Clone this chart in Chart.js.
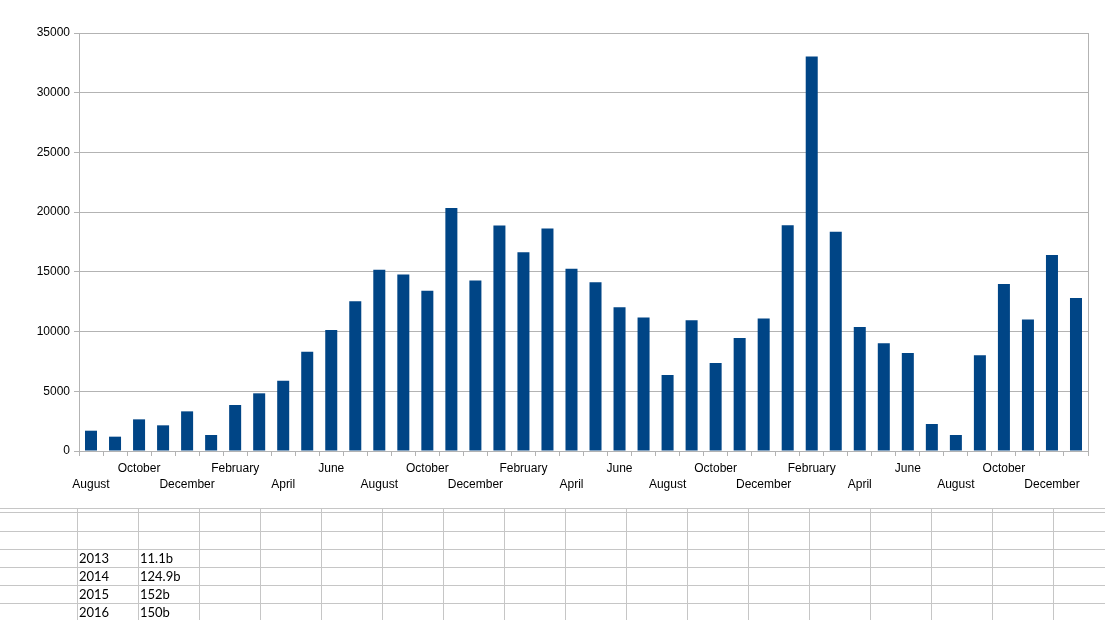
<!DOCTYPE html>
<html>
<head>
<meta charset="utf-8">
<script src="https://cdn.jsdelivr.net/npm/chart.js@4"></script>
<style>
  html, body { margin: 0; padding: 0; background: #fff; }
  body { width: 1105px; height: 622px; position: relative; overflow: hidden; }
  #wrap { position: absolute; left: 0; top: 0; width: 1105px; height: 500px; }
  #sheet { position: absolute; left: 0; top: 0; width: 1105px; height: 622px; pointer-events: none; }
  .hl { position: absolute; left: 0; width: 1105px; height: 1px; background: #c6c6c6; }
  .vl { position: absolute; width: 1px; background: #c6c6c6; }
  .cell { position: absolute; font-family: Lato, "Open Sans", sans-serif; font-size: 13px; color: #000; line-height: 18px; }
</style>
</head>
<body>
<div id="wrap"><canvas id="c"></canvas></div>
<div id="sheet"></div>
<script>
// ---- data ----
const months = [
  "August","September","October","November","December",
  "January","February","March","April","May","June","July","August","September","October","November","December",
  "January","February","March","April","May","June","July","August","September","October","November","December",
  "January","February","March","April","May","June","July","August","September","October","November","December",
  "January"
];
const values = [
  1700, 1200, 2650, 2150, 3320,
  1340, 3850, 4830, 5890, 8300, 10140, 12540, 15170, 14780, 13410, 20340, 14270,
  18880, 16650, 18630, 15250, 14130, 12040, 11170, 6370, 10950, 7370, 9470, 11090,
  18910, 33040, 18350, 10390, 9020, 8210, 2260, 1340, 8020, 13990, 11010, 16420,
  12820
];
const yTicks = [0, 5000, 10000, 15000, 20000, 25000, 30000, 35000];
const tableYears = ["2013", "2014", "2015", "2016"];
const tableTotals = ["11.1b", "124.9b", "152b", "150b"];

// ---- spreadsheet grid below the chart ----
const sheet = document.getElementById('sheet');
[508, 512, 531, 549, 567, 585, 603].forEach(y => {
  const d = document.createElement('div'); d.className = 'hl'; d.style.top = y + 'px'; sheet.appendChild(d);
});
for (let k = 0; k <= 16; k++) {
  const d = document.createElement('div'); d.className = 'vl';
  d.style.left = (77 + 61 * k) + 'px'; d.style.top = '508px'; d.style.height = '112px';
  sheet.appendChild(d);
}
tableYears.forEach((yr, i) => {
  const top = 549 + 18 * i;
  const a = document.createElement('div'); a.className = 'cell'; a.textContent = yr;
  a.style.left = '79px'; a.style.top = top + 'px'; sheet.appendChild(a);
  const b = document.createElement('div'); b.className = 'cell'; b.textContent = tableTotals[i];
  b.style.left = '140px'; b.style.top = top + 'px'; sheet.appendChild(b);
});

// ---- chart ----
const frame = {
  id: 'frame',
  afterDraw(chart) {
    const a = chart.chartArea, ctx = chart.ctx;
    ctx.save();
    ctx.strokeStyle = '#b3b3b3';
    ctx.lineWidth = 1;
    ctx.beginPath();
    ctx.moveTo(Math.round(a.right) + 0.5, a.top);
    ctx.lineTo(Math.round(a.right) + 0.5, a.bottom);
    ctx.stroke();
    ctx.restore();
  }
};

new Chart(document.getElementById('c'), {
  type: 'bar',
  data: {
    labels: months,
    datasets: [{
      data: values,
      backgroundColor: '#004586',
      borderWidth: 0,
      barPercentage: 0.5,
      categoryPercentage: 1.0
    }]
  },
  options: {
    responsive: true,
    maintainAspectRatio: false,
    animation: false,
    devicePixelRatio: 1,
    layout: { padding: { top: 33, right: 17, left: 0, bottom: 0 } },
    plugins: { legend: { display: false }, tooltip: { enabled: false } },
    scales: {
      x: {
        grid: { display: true, drawOnChartArea: false, drawTicks: true, tickLength: 5, color: '#b3b3b3', offset: true },
        border: { display: true, color: '#b3b3b3' },
        ticks: {
          autoSkip: false, maxRotation: 0, minRotation: 0, padding: 5,
          color: '#000',
          font: { family: '"Liberation Sans", Arial, sans-serif', size: 12, lineHeight: 1.34 },
          callback: function (v, i) {
            if (i % 2 === 1) return '';
            const name = months[i];
            return (i / 2) % 2 === 0 ? ['', name] : name;
          }
        },
        afterFit(scale) { scale.height = 49; }
      },
      y: {
        min: 0, max: 35000,
        afterBuildTicks(scale) { scale.ticks = yTicks.map(v => ({ value: v })); },
        grid: { color: '#b3b3b3', tickLength: 5, drawTicks: true },
        border: { display: true, color: '#b3b3b3' },
        ticks: {
          padding: 4, color: '#000',
          font: { family: '"Liberation Sans", Arial, sans-serif', size: 12 },
          callback: v => String(v)
        },
        afterFit(scale) { scale.width = 79; }
      }
    }
  },
  plugins: [frame]
});
</script>
</body>
</html>
